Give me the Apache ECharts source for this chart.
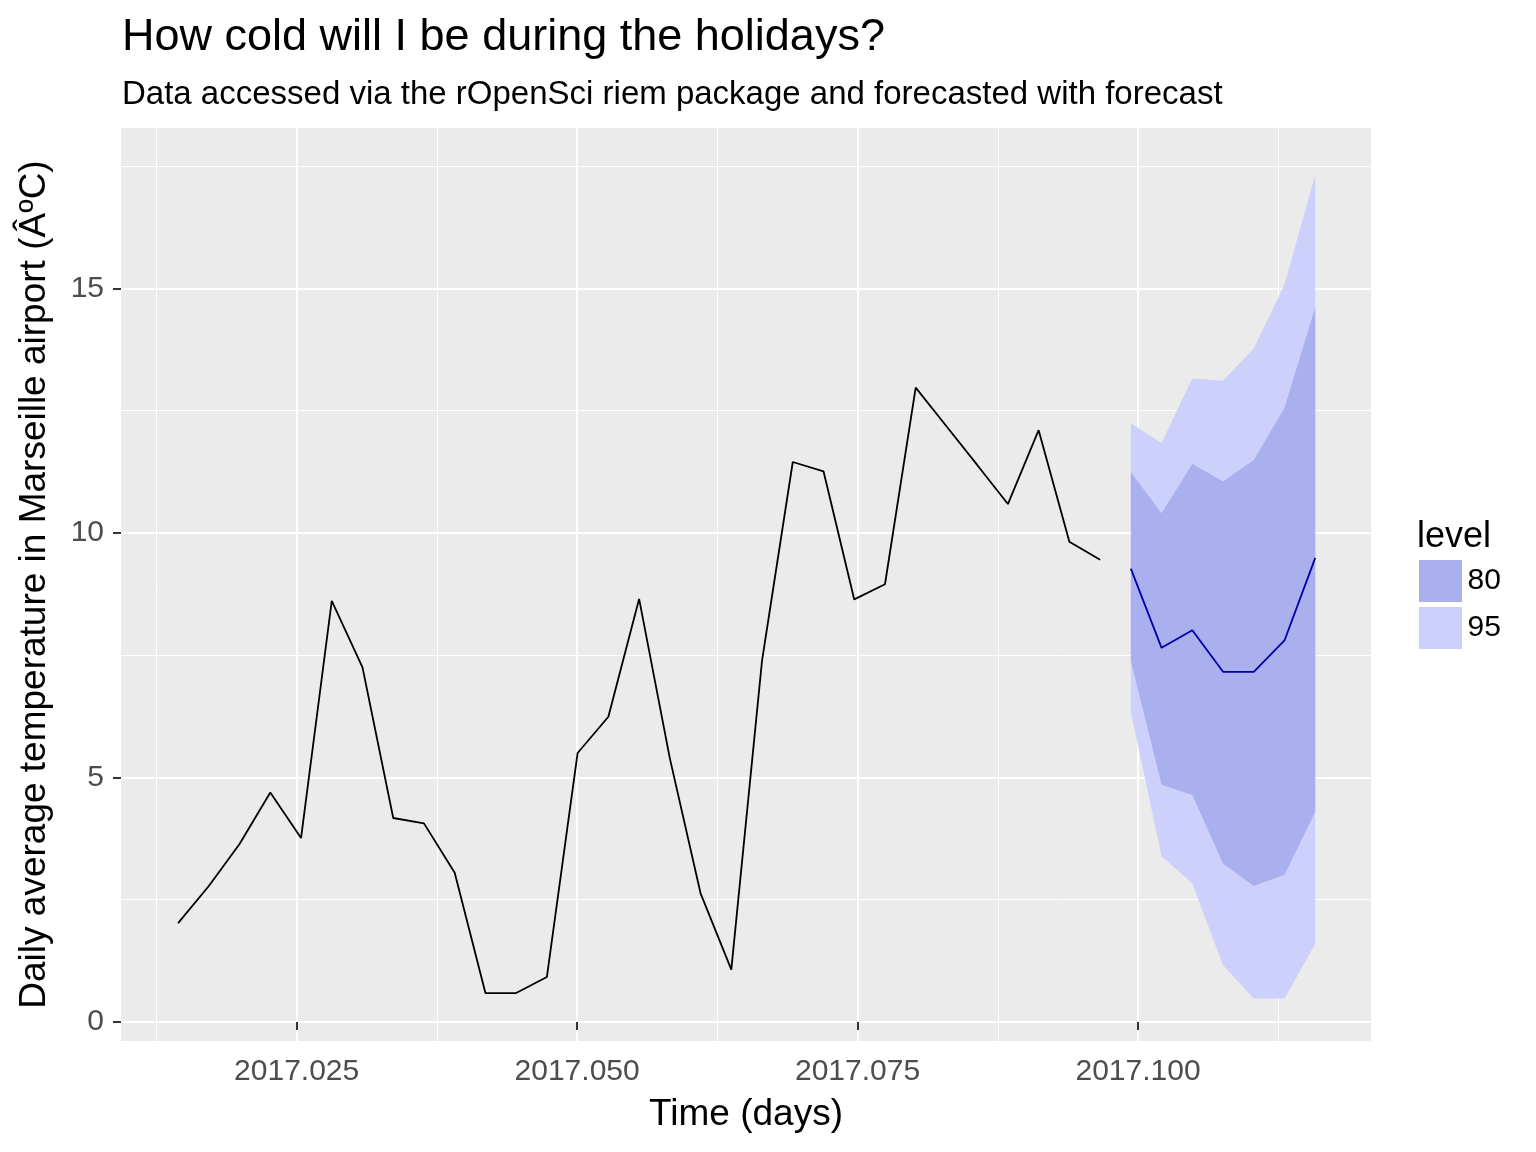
<!DOCTYPE html>
<html><head><meta charset="utf-8">
<script src="https://cdn.jsdelivr.net/npm/echarts@6/dist/echarts.min.js"></script>
<style>html,body{margin:0;padding:0;background:#fff}#c{width:1536px;height:1152px}</style>
</head><body><div id="c"></div>
<script>
// ---- data ----
const startTime = 2017.01443;      // decimal year of first daily observation
const dayStep = 1 / 365;           // one day
const observed = [2.02, 2.78, 3.64, 4.69, 3.76, 8.61, 7.25, 4.17, 4.06, 3.05,
                  0.59, 0.59, 0.92, 5.50, 6.24, 8.65, 5.39, 2.63, 1.07, 7.39,
                  11.45, 11.26, 8.64, 8.95, 12.97, 12.18, 11.39, 10.59, 12.10, 9.82, 9.45];
const fcMean = [9.27, 7.65, 8.01, 7.16, 7.16, 7.80, 9.49];
const lo80 = [7.38, 4.85, 4.64, 3.24, 2.78, 3.01, 4.30];
const hi80 = [11.24, 10.40, 11.41, 11.05, 11.49, 12.56, 14.61];
const lo95 = [6.34, 3.39, 2.83, 1.16, 0.48, 0.48, 1.60];
const hi95 = [12.24, 11.84, 13.16, 13.11, 13.77, 15.08, 17.32];
const levels = ['80', '95'];
const xMajorTicks = [2017.025, 2017.05, 2017.075, 2017.1];
const xMinorTicks = [2017.0125, 2017.0375, 2017.0625, 2017.0875, 2017.1125];
const yMajorTicks = [0, 5, 10, 15];
const yMinorTicks = [2.5, 7.5, 12.5, 17.5];
const titleText = 'How cold will I be during the holidays?';
const subtitleText = 'Data accessed via the rOpenSci riem package and forecasted with forecast';
const xTitle = 'Time (days)';
const yTitle = 'Daily average temperature in Marseille airport (ÂºC)';
const legendTitle = 'level';

// ---- build ----
const FONT = "'Liberation Sans', Arial, Helvetica, sans-serif";
const obsTimes = observed.map((v, i) => +(startTime + i * dayStep).toFixed(6));
const fcTimes = fcMean.map((v, i) => +(startTime + (observed.length + i) * dayStep).toFixed(6));
const X_MIN = 2017.00934, X_MAX = 2017.12077;
const Y_MIN = -0.39, Y_MAX = 18.28;

function bandRender(params, api) {
  if (params.dataIndexInside !== 0) return null;
  const n = params.dataInsideLength;
  const pts = [];
  for (let i = 0; i < n; i++) pts.push(api.coord([api.value(0, i), api.value(1, i)]));
  for (let i = n - 1; i >= 0; i--) pts.push(api.coord([api.value(0, i), api.value(2, i)]));
  return { type: 'polygon', shape: { points: pts }, style: { fill: api.visual('color') } };
}

const chart = echarts.init(document.getElementById('c'));
chart.setOption({
  animation: false,
  backgroundColor: '#fff',
  textStyle: { fontFamily: FONT },
  title: [
    { text: titleText, left: 122, top: 15, padding: 0,
      textStyle: { fontSize: 45, fontWeight: 'normal', color: '#000', fontFamily: FONT } },
    { text: subtitleText, left: 122, top: 78, padding: 0,
      textStyle: { fontSize: 33, fontWeight: 'normal', color: '#000', fontFamily: FONT } },
    { text: legendTitle, left: 1417, top: 519, padding: 0,
      textStyle: { fontSize: 36, fontWeight: 'normal', color: '#000', fontFamily: FONT } }
  ],
  legend: {
    data: levels, orient: 'vertical', left: 1418, top: 559, padding: 0,
    itemWidth: 44, itemHeight: 43, itemGap: 3, icon: 'rect',
    itemStyle: { borderColor: '#fff', borderWidth: 1 },
    textStyle: { fontSize: 30, color: '#000', fontFamily: FONT },
    selectedMode: false
  },
  grid: { left: 121, top: 128, width: 1250, height: 913, show: true,
          backgroundColor: '#EBEBEB', borderWidth: 0, containLabel: false, outerBoundsMode: 'none' },
  xAxis: [
    { type: 'value', min: X_MIN, max: X_MAX, gridIndex: 0,
      name: xTitle, nameLocation: 'middle', nameGap: 55,
      nameTextStyle: { fontSize: 37, color: '#000', fontFamily: FONT },
      axisLine: { show: false },
      axisTick: { show: true, customValues: xMajorTicks, length: 8, lineStyle: { color: '#333', width: 2 } },
      axisLabel: { customValues: xMajorTicks, formatter: v => v.toFixed(3), fontSize: 30, color: '#4D4D4D', margin: 16, fontFamily: FONT },
      splitLine: { show: true, lineStyle: { color: '#fff', width: 2 } } },
    { type: 'value', min: X_MIN, max: X_MAX, gridIndex: 0,
      axisLine: { show: false },
      axisTick: { show: false, customValues: xMinorTicks },
      axisLabel: { show: false, customValues: xMinorTicks },
      splitLine: { show: true, lineStyle: { color: '#fff', width: 1 } } }
  ],
  yAxis: [
    { type: 'value', min: Y_MIN, max: Y_MAX, gridIndex: 0,
      name: yTitle, nameLocation: 'middle', nameGap: 68, nameRotate: 90,
      nameTextStyle: { fontSize: 37, color: '#000', fontFamily: FONT },
      axisLine: { show: false },
      axisTick: { show: true, customValues: yMajorTicks, length: 8, lineStyle: { color: '#333', width: 2 } },
      axisLabel: { customValues: yMajorTicks, fontSize: 30, color: '#4D4D4D', margin: 17, fontFamily: FONT },
      splitLine: { show: true, lineStyle: { color: '#fff', width: 2 } } },
    { type: 'value', min: Y_MIN, max: Y_MAX, gridIndex: 0,
      axisLine: { show: false },
      axisTick: { show: false, customValues: yMinorTicks },
      axisLabel: { show: false, customValues: yMinorTicks },
      splitLine: { show: true, lineStyle: { color: '#fff', width: 1 } } }
  ],
  series: [
    { name: 'observed', type: 'line', xAxisIndex: 0, yAxisIndex: 0, symbol: 'none',
      data: obsTimes.map((t, i) => [t, observed[i]]),
      lineStyle: { color: '#000', width: 1.8 }, itemStyle: { color: '#000' }, silent: true },
    { name: '95', type: 'custom', xAxisIndex: 0, yAxisIndex: 0, renderItem: bandRender,
      encode: { x: 0, y: [1, 2] }, itemStyle: { color: '#CCD0FA' }, silent: true,
      data: fcTimes.map((t, i) => [t, lo95[i], hi95[i]]) },
    { name: '80', type: 'custom', xAxisIndex: 0, yAxisIndex: 0, renderItem: bandRender,
      encode: { x: 0, y: [1, 2] }, itemStyle: { color: '#AAAFEE' }, silent: true,
      data: fcTimes.map((t, i) => [t, lo80[i], hi80[i]]) },
    { name: 'mean', type: 'line', xAxisIndex: 0, yAxisIndex: 0, symbol: 'none',
      data: fcTimes.map((t, i) => [t, fcMean[i]]),
      lineStyle: { color: '#0000AA', width: 1.8 }, itemStyle: { color: '#0000AA' }, silent: true, z: 5 }
  ]
});
</script></body></html>
